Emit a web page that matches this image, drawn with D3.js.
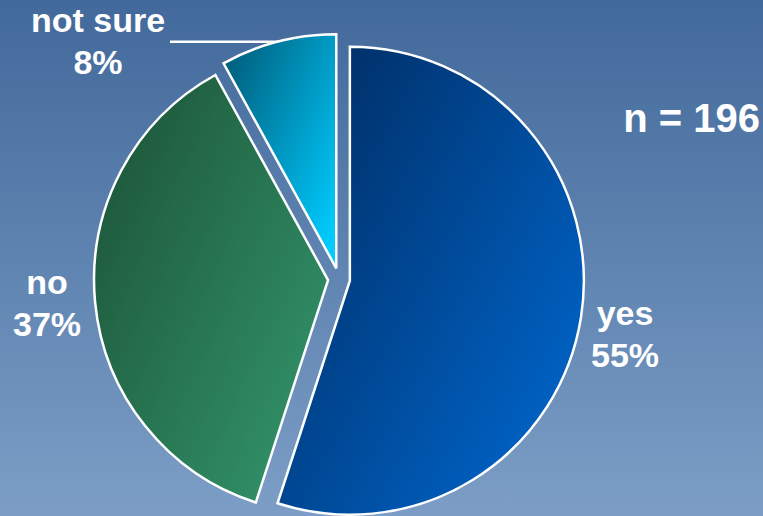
<!DOCTYPE html>
<html>
<head>
<meta charset="utf-8">
<script src="https://cdn.jsdelivr.net/npm/d3@7"></script>
<style>
  html, body { margin: 0; padding: 0; }
  svg { display: block; }
  text { font-family: "Liberation Sans", Arial, sans-serif; font-weight: bold; fill: #fff; }
</style>
</head>
<body>
<div id="chart"></div>
<script>
// chart data
var categories = ["yes", "no", "not sure"];
var shares = [55, 37, 8];
var sampleLabel = "n = 196";

var width = 763;
var height = 516;

// pie geometry
var cx = 339;
var cy = 279;
var radius = 234;
var explode = 11;

// gradient colours for each slice (dark start -> light end)
var sliceColors = [
  ["#00295c", "#0066cc"],
  ["#1b5035", "#32946a"],
  ["#005774", "#00ccff"]
];

var svg = d3.select("#chart")
  .append("svg")
  .attr("width", width)
  .attr("height", height);

var defs = svg.append("defs");

// background gradient
var bg = defs.append("linearGradient")
  .attr("id", "bg")
  .attr("x1", 0).attr("y1", 0).attr("x2", 0).attr("y2", 1);
bg.append("stop").attr("offset", "0%").attr("stop-color", "#42699b");
bg.append("stop").attr("offset", "100%").attr("stop-color", "#7c9ec6");

svg.append("rect")
  .attr("width", width)
  .attr("height", height)
  .attr("fill", "url(#bg)");

sliceColors.forEach(function(c, i) {
  var g = defs.append("linearGradient")
    .attr("id", "slice" + i)
    .attr("x1", 0).attr("y1", 0).attr("x2", 1).attr("y2", 0.85);
  g.append("stop").attr("offset", "0%").attr("stop-color", c[0]);
  g.append("stop").attr("offset", "100%").attr("stop-color", c[1]);
});

var pie = d3.pie().sort(null).value(function(d) { return d; });
var arcs = pie(shares);

var arc = d3.arc().innerRadius(0).outerRadius(radius);

function midAngle(d) { return (d.startAngle + d.endAngle) / 2; }

var pieG = svg.append("g")
  .attr("transform", "translate(" + cx + "," + cy + ")");

pieG.selectAll("path.slice")
  .data(arcs)
  .enter()
  .append("path")
  .attr("class", "slice")
  .attr("d", arc)
  .attr("transform", function(d) {
    var a = midAngle(d);
    return "translate(" + (explode * Math.sin(a)) + "," + (-explode * Math.cos(a)) + ")";
  })
  .attr("fill", function(d, i) { return "url(#slice" + i + ")"; })
  .attr("stroke", "#fff")
  .attr("stroke-width", 2.5)
  .attr("stroke-linejoin", "miter");

// leader line for the small slice
var ns = arcs[2];
var a2 = midAngle(ns);
var endX = (explode + radius) * Math.sin(a2);
var endY = -(explode + radius) * Math.cos(a2);
pieG.append("line")
  .attr("x1", 170 - cx)
  .attr("y1", endY)
  .attr("x2", endX)
  .attr("y2", endY)
  .attr("stroke", "#fff")
  .attr("stroke-width", 2.5);

// slice labels
var labelPos = [
  { x: 625, y: 325 },
  { x: 47, y: 294 },
  { x: 98, y: 32 }
];

categories.forEach(function(c, i) {
  var t = svg.append("text")
    .attr("text-anchor", "middle")
    .attr("font-size", 34);
  t.append("tspan")
    .attr("x", labelPos[i].x)
    .attr("y", labelPos[i].y)
    .text(c);
  t.append("tspan")
    .attr("x", labelPos[i].x)
    .attr("y", labelPos[i].y + 42)
    .text(shares[i] + "%");
});

svg.append("text")
  .attr("x", 760)
  .attr("y", 132)
  .attr("text-anchor", "end")
  .attr("font-size", 40)
  .text(sampleLabel);
</script>
</body>
</html>
